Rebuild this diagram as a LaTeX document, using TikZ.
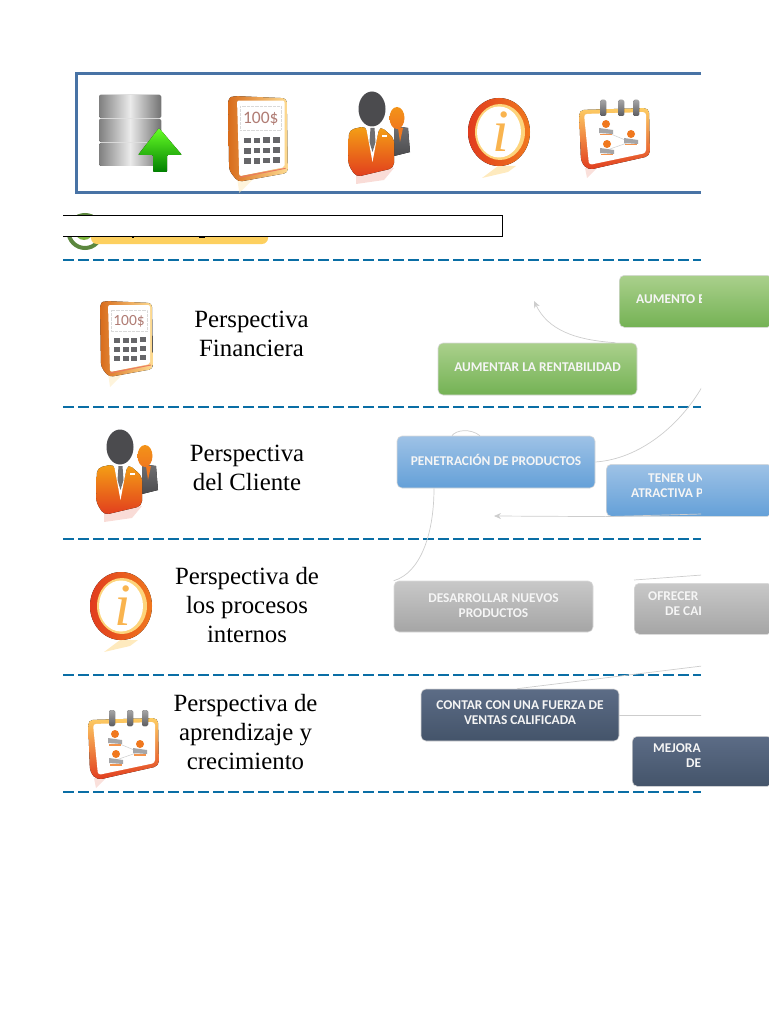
\documentclass[tikz,border=0pt]{standalone}
\usepackage{fontspec}
\setmainfont{Liberation Serif}
\newfontfamily\boxfont{Carlito}
\definecolor{FrameBlue}{RGB}{72,115,165}
\definecolor{DashBlue}{RGB}{10,110,165}
\definecolor{LinkGray}{RGB}{205,205,205}
\definecolor{GreenTop}{RGB}{170,208,140}
\definecolor{GreenLow}{RGB}{116,178,84}
\definecolor{BlueTop}{RGB}{158,194,230}
\definecolor{BlueLow}{RGB}{100,160,216}
\definecolor{GrayTop}{RGB}{200,200,200}
\definecolor{GrayLow}{RGB}{165,165,165}
\definecolor{NavyTop}{RGB}{92,108,134}
\definecolor{NavyLow}{RGB}{68,84,106}
\definecolor{IconOrange}{RGB}{240,120,30}
\definecolor{IconRed}{RGB}{225,60,30}
\definecolor{IconGold}{RGB}{253,205,100}
\definecolor{IconDark}{RGB}{75,75,78}
\definecolor{RingGreen}{RGB}{92,135,62}
\definecolor{RingCore}{RGB}{125,180,60}
\usetikzlibrary{arrows.meta}
\tikzset{
  goalbox/.style={rounded corners=5pt, draw=white!85!black, line width=0.6pt, inner sep=0pt},
  goaltext/.style={font=\boxfont\bfseries\fontsize{13.4}{15}\selectfont, text=white!92!gray, align=center, inner sep=0pt},
  viewtext/.style={font=\fontsize{24.8}{29}\selectfont, align=center, inner sep=0pt},
  bandline/.style={DashBlue, line width=2.2pt, dash pattern=on 11pt off 4pt},
  linkline/.style={LinkGray, line width=0.7pt},
  linkarrow/.style={linkline, -{Stealth[length=7pt, width=6pt]}},
  pics/calcicon/.style={code={
    \fill[IconGold!45, opacity=.5] (8,72) -- (26,70) -- (10,86) -- cycle;
    \fill[rounded corners=4pt, left color=IconOrange!90!black, right color=IconGold!70] (0,2) -- (5,0) -- (52,2) -- (53,68) -- (9,76) -- (1,66) -- cycle;
    \fill[rounded corners=2pt, white] (8,4) -- (50,4) -- (50,63) -- (10,71) -- cycle;
    \draw[IconRed!70, line width=.9pt] (10,72) -- (51,64);
    \draw[black!15, line width=.3pt, densely dotted] (11,9) rectangle (47,30);
    \node[inner sep=0pt, text=IconRed!45!IconDark!70, font=\boxfont\fontsize{15.5}{15.5}\selectfont, transform shape] (-amount) at (29,20) {100\$};
    \foreach \col in {0,1,2,3}
      \foreach \row in {0,1,2}
        \fill[IconDark!85] (14+\col*8.7,37-\col*0.2+\row*9) rectangle +(6,5);
  }},
  pics/manicon/.style={code={
    \fill[IconRed!45, opacity=.4] (8,80) -- (46,76) -- (36,88) -- (8,92) -- cycle;
    \fill[top color=IconDark!80, bottom color=IconDark] (46,34) -- (60,36) -- (62,60) -- (46,64) -- cycle;
    \shade[top color=IconOrange!80!yellow, bottom color=IconOrange] (49,26) ellipse (7.5 and 11);
    \fill[IconOrange] (50,36) -- (55,36) -- (52,50) -- cycle;
    \fill[IconDark] (24,17) ellipse (13.5 and 17.5);
    \fill[rounded corners=5pt, top color=IconOrange!70!yellow, bottom color=IconRed] (1,38) -- (18,34) -- (24,65) -- (32,34) -- (46,46) -- (46,76) -- (8,85) -- (0,72) -- cycle;
    \fill[white] (18,35) -- (31,35) -- (24.5,70) -- cycle;
    \fill[IconDark!80] (22.5,36) -- (26.5,36) -- (27.5,50) -- (24.5,60) -- (21.5,50) -- cycle;
    \fill[white] (34,43) rectangle (39,45);
  }},
  pics/infoicon/.style={code={
    \fill[IconGold!70, opacity=.6] (14,80) -- (30,68) -- (48,68) -- (40,74) -- cycle;
    \fill[left color=IconRed, right color=IconOrange] (31,34) ellipse (31 and 34);
    \fill[IconGold!85!white] (32,34) ellipse (25 and 28);
    \fill[white] (31,34) ellipse (22 and 25.5);
    \node[inner sep=0pt, text=IconGold!70!IconOrange, font=\itshape\fontsize{60}{60}\selectfont, transform shape] (-letter) at (33,34) {i};
  }},
  pics/planicon/.style={code={
    \fill[IconRed!40, opacity=.4] (6,68) -- (18,68) -- (8,78) -- cycle;
    \fill[rounded corners=5pt, top color=IconGold, bottom color=IconRed] (0,10) -- (70,8) -- (71,56) -- (9,70) -- (2,62) -- cycle;
    \fill[rounded corners=3pt, white] (5,14) -- (67,12) -- (67,53) -- (10,65) -- cycle;
    \foreach \hx in {24,42,57}
      \fill[rounded corners=1.5pt, top color=IconDark!50, bottom color=IconDark!90] (\hx-3,0) rectangle (\hx+3,16);
    \draw[LinkGray, line width=.5pt] (27,32) -- (51,42) -- (28,50);
    \foreach \px/\py in {27/28,52/38,28/48} {
      \fill[IconOrange] (\px,\py-4) circle (4);
      \fill[IconDark!50] (\px-7,\py) -- (\px+7,\py+2) -- (\px+7,\py+6) -- (\px-7,\py+5) -- cycle;
      \fill[IconOrange!80] (\px-6,\py+6) rectangle (\px+6,\py+7.5);
    }
  }},
  pics/diskicon/.style={code={
    \foreach \dy in {0,24,48}
      \fill[rounded corners=1.5pt, left color=black!50, right color=black!55, middle color=black!8] (0,\dy) rectangle (62,\dy+23);
    \fill[top color=green!60!lime!85!white, bottom color=green!50!black, rounded corners=1pt] (60,33) -- (83,60) -- (68,60) -- (68,77) -- (54,77) -- (54,60) -- (39,60) -- cycle;
  }},
}
\begin{document}
\begin{tikzpicture}[x=1pt, y=-1pt]
    \useasboundingbox (0,0) rectangle (768,1024);

    % Icon strip
    \draw[FrameBlue, line width=3pt] (701,74) -- (76,74) -- (76,193) -- (701,193);
    \pic (diskTop) at (99,95) {diskicon};
    \pic[scale=1.13] (calcTop) at (228,96) {calcicon};
    \pic (manTop) at (348,92) {manicon};
    \pic (infoTop) at (468,98) {infoicon};
    \pic (planTop) at (579,100) {planicon};

    % Covered heading
    \draw[RingGreen, line width=4pt, fill=white] (85,231.5) circle (16.5);
    \fill[RingCore] (84,231) circle (9);
    \fill[rounded corners=6pt, IconGold!95!yellow] (91,222) rectangle (268,244);
    \fill (132,236) rectangle (133.5,238);
    \fill (199,236) rectangle (205,238);
    \draw[black, fill=white, line width=.8pt] (63,215.5) -- (502.5,215.5) -- (502.5,236.5) -- (63,236.5);

    % Bands
    \foreach \yb/\nm in {260/bandA,407/bandB,539/bandC,675/bandD,792/bandE}
      \draw[bandline] (63,\yb) coordinate (\nm) -- (701,\yb);

    % Perspectives
    \pic (calcLow) at (100,301) {calcicon};
    \node[viewtext] (finance) at (251.5,334) {Perspectiva\\Financiera};
    \pic (manLow) at (96,430) {manicon};
    \node[viewtext] (client) at (247,467.5) {Perspectiva\\del Cliente};
    \pic (infoLow) at (90,572) {infoicon};
    \node[viewtext] (process) at (247,605) {Perspectiva de\\los procesos\\internos};
    \pic (planLow) at (88,710) {planicon};
    \node[viewtext] (growth) at (245.5,732) {Perspectiva de\\aprendizaje y\\crecimiento};

    % Goal boxes
    \node[goalbox, top color=GreenTop, bottom color=GreenLow, minimum width=153pt, minimum height=52pt, anchor=north west] (up) at (619,275) {};
    \node[goalbox, top color=GreenTop, bottom color=GreenLow, minimum width=199pt, minimum height=52pt] (rent) at (537.5,369) {};
    \node[goalbox, top color=BlueTop, bottom color=BlueLow, minimum width=198pt, minimum height=52pt] (pene) at (496,462) {};
    \node[goalbox, top color=BlueTop, bottom color=BlueLow, minimum width=166pt, minimum height=52pt, anchor=north west] (offer) at (606,464) {};
    \node[goalbox, top color=GrayTop, bottom color=GrayLow, minimum width=199pt, minimum height=51pt] (nuevos) at (493.5,606.5) {};
    \node[goalbox, top color=GrayTop, bottom color=GrayLow, minimum width=138pt, minimum height=51pt, anchor=north west] (qual) at (634,583) {};
    \node[goalbox, top color=NavyTop, bottom color=NavyLow, minimum width=198pt, minimum height=52pt] (fuerza) at (520,715) {};
    \node[goalbox, top color=NavyTop, bottom color=NavyLow, minimum width=140pt, minimum height=50pt, anchor=north west] (better) at (632,736) {};

    % Links, cut at the page edge
    \begin{scope}
      \clip (0,0) rectangle (701,1024);
      \coordinate (rentEnd) at (534,301);
      \coordinate (offerEnd) at (494,516);
      \coordinate (edgeA) at (702,387);
      \coordinate (edgeB) at (702,514);
      \coordinate (edgeC) at (702,575);
      \coordinate (edgeD) at (702,666);
      \coordinate (edgeE) at (702,715);
      \draw[linkarrow] ([xshift=-22pt]rent.north east) .. controls (575,340) and (548,330) .. (rentEnd);
      \draw[linkline] (pene.east) .. controls (640,459) and (680,425) .. (edgeA);
      \draw[linkline] ([xshift=-44pt]pene.north) .. controls (456,430) and (470,428) .. ([xshift=-16pt]pene.north);
      \draw[linkline] ([xshift=-62pt]pene.south) .. controls (434,535) and (420,573) .. (nuevos.north west);
      \draw[linkarrow] (edgeB) -- (offer.south west) -- (offerEnd);
      \draw[linkline] ([yshift=3pt]qual.north west) -- (edgeC);
      \draw[linkline] ([xshift=-3pt]fuerza.north) -- (edgeD);
      \draw[linkline] (fuerza.east) -- (edgeE);

      % Goal texts
      \node[goaltext] (rentT) at ([yshift=2pt]rent.center) {AUMENTAR LA RENTABILIDAD};
      \node[goaltext, anchor=west] (upT) at (636,299) {AUMENTO E};
      \node[goaltext] (peneT) at ([yshift=2pt]pene.center) {PENETRACIÓN DE PRODUCTOS};
      \node[goaltext, align=left, anchor=north west] (offerT) at (631,474) {\hspace*{17pt}TENER UN\\ATRACTIVA P};
      \node[goaltext] (nuevosT) at ([yshift=1pt]nuevos.center) {DESARROLLAR NUEVOS\\PRODUCTOS};
      \node[goaltext, align=left, anchor=north west] (qualT) at (648,592) {OFRECER\\\hspace*{17pt}DE CAI};
      \node[goaltext] (fuerzaT) at ([yshift=2pt]fuerza.center) {CONTAR CON UNA FUERZA DE\\VENTAS CALIFICADA};
      \node[goaltext, align=left, anchor=north west] (betterT) at (653,744) {MEJORA\\\hspace*{33pt}DE};
    \end{scope}
\end{tikzpicture}
\end{document}
